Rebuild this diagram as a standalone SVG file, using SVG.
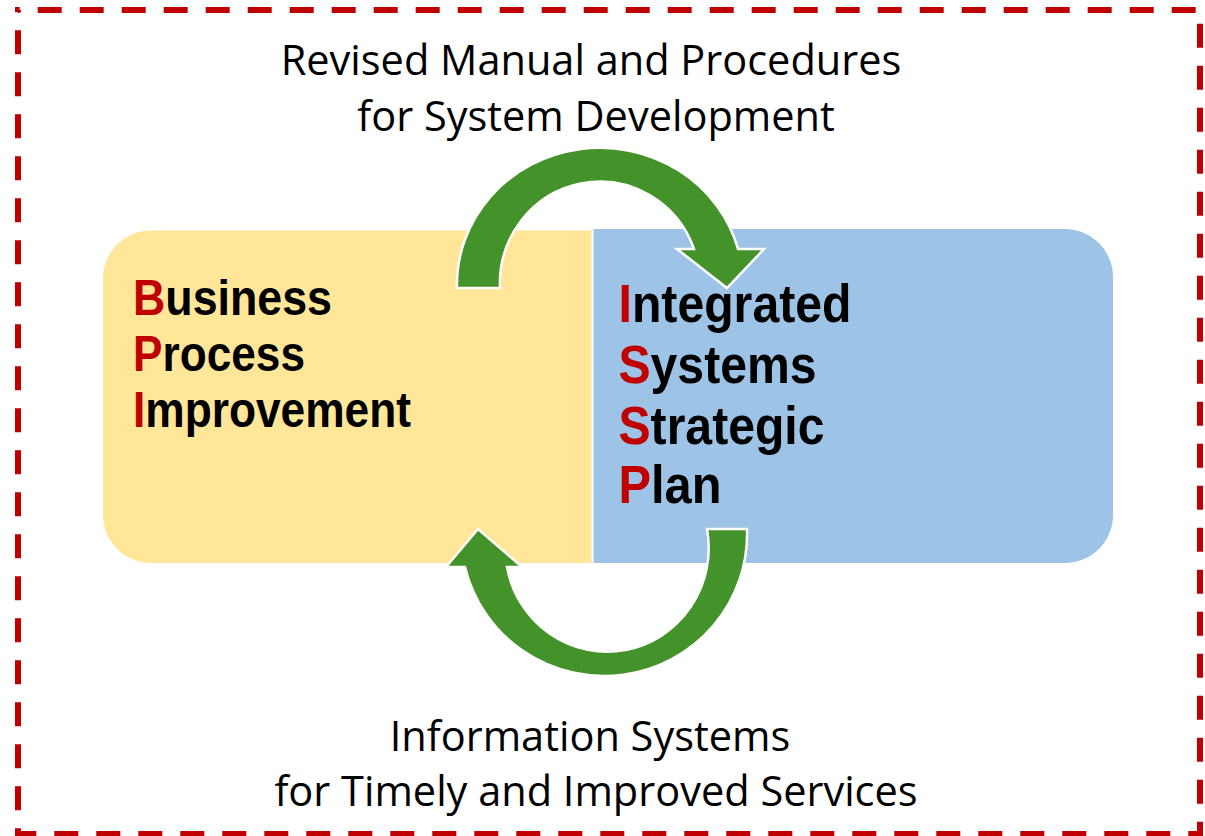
<svg xmlns="http://www.w3.org/2000/svg" width="1205" height="836" viewBox="0 0 1205 836">
<style>
.cap{font-family:"Open Sans","Noto Sans",sans-serif;font-size:41.5px;fill:#000;text-anchor:middle}
.big{font-family:"Liberation Sans",Arial,sans-serif;font-weight:bold;fill:#000}
.r{fill:#C00000}
.arrow{fill:#44922A;stroke:#fff;stroke-width:2.5;stroke-linejoin:miter}
</style>
<rect x="18" y="10" width="1182" height="824" fill="none" stroke="#C00000" stroke-width="6" stroke-dasharray="24 18" stroke-dashoffset="22.3"/>
<g id="bpi">
<path d="M151 230.5 H591.5 V563 H151 A48 48 0 0 1 103 515 V278.5 A48 48 0 0 1 151 230.5 Z" fill="#FFE699"/>
<text class="big" font-size="50"><tspan x="133" y="315" textLength="199" lengthAdjust="spacingAndGlyphs"><tspan class="r">B</tspan>usiness</tspan></text>
<text class="big" font-size="50"><tspan x="133" y="371" textLength="172" lengthAdjust="spacingAndGlyphs"><tspan class="r">P</tspan>rocess</tspan></text>
<text class="big" font-size="50"><tspan x="133" y="427" textLength="278" lengthAdjust="spacingAndGlyphs"><tspan class="r">I</tspan>mprovement</tspan></text>
</g>
<g id="issp">
<path d="M593.5 229 H1065 A48 48 0 0 1 1113 277 V515 A48 48 0 0 1 1065 563 H593.5 Z" fill="#9DC3E6"/>
</g>
<g id="connectors">
<path class="arrow" d="M457 288 A143 137 0 0 1 738 249 L764 249 L727 288 L677 249 L694 249 A100 102 0 0 0 500 288 Z"/>
<path class="arrow" d="M747 529 A143 142 0 0 1 465 567 L446 567 L478 529 L522 567 L507 567 A101 103 0 0 0 707 529 Z"/>
</g>
<g id="issp-text">
<text class="big" font-size="54"><tspan x="618.5" y="322" textLength="233" lengthAdjust="spacingAndGlyphs"><tspan class="r">I</tspan>ntegrated</tspan></text>
<text class="big" font-size="54"><tspan x="618.5" y="383" textLength="198" lengthAdjust="spacingAndGlyphs"><tspan class="r">S</tspan>ystems</tspan></text>
<text class="big" font-size="54"><tspan x="618.5" y="444" textLength="206" lengthAdjust="spacingAndGlyphs"><tspan class="r">S</tspan>trategic</tspan></text>
<text class="big" font-size="54"><tspan x="618.5" y="503" textLength="103" lengthAdjust="spacingAndGlyphs"><tspan class="r">P</tspan>lan</tspan></text>
</g>
<g id="top-label">
<text class="cap" x="591" y="75">Revised Manual and Procedures</text>
<text class="cap" x="596" y="131">for System Development</text>
</g>
<g id="bottom-label">
<text class="cap" x="590" y="751">Information Systems</text>
<text class="cap" x="596" y="806">for Timely and Improved Services</text>
</g>
</svg>
